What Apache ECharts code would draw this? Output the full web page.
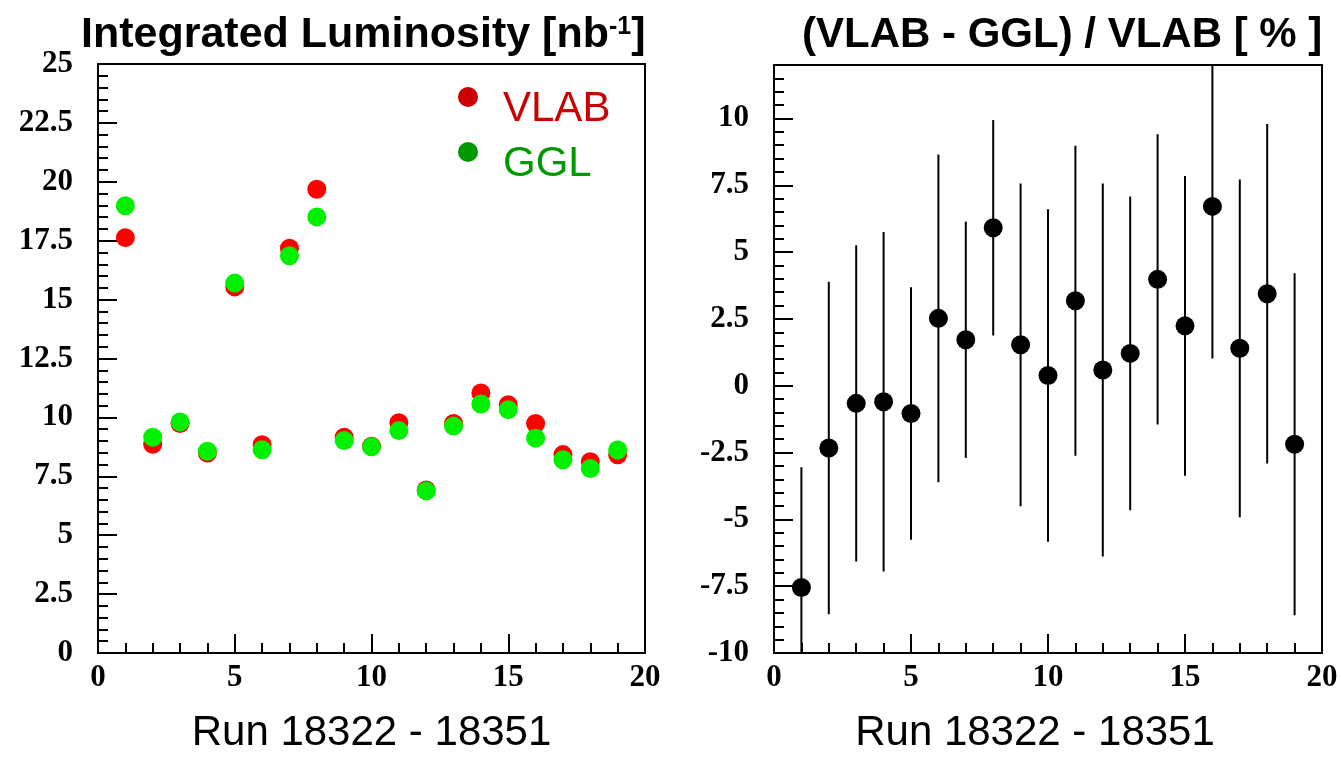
<!DOCTYPE html>
<html>
<head>
<meta charset="utf-8">
<title>Integrated Luminosity — VLAB vs GGL</title>
<script src="https://cdn.jsdelivr.net/npm/echarts@6/dist/echarts.min.js"></script>
<style>
  html, body { margin: 0; padding: 0; background: #fff; }
  #chart { width: 1341px; height: 759px; }
</style>
</head>
<body>
<div id="chart"></div>
<script>
// Run index within the range 18322 - 18351
const runs = [1, 2, 3, 4, 5, 6, 7, 8, 9, 10, 11, 12, 13, 14, 15, 16, 17, 18, 19];

// Integrated luminosity per run [nb^-1]
const vlab = [17.63, 8.86, 9.74, 8.49, 15.54, 8.84, 17.18, 19.68, 9.16, 8.78,
              9.77, 6.92, 9.74, 11.04, 10.54, 9.74, 8.42, 8.12, 8.41];
const ggl  = [18.98, 9.16, 9.81, 8.56, 15.70, 8.63, 16.86, 18.51, 9.02, 8.75,
              9.44, 6.88, 9.63, 10.57, 10.33, 9.12, 8.20, 7.83, 8.62];

// Relative difference (VLAB - GGL) / VLAB [%] and its uncertainty
const relDiff = [-7.55, -2.33, -0.66, -0.60, -1.04, 2.52, 1.72, 5.91, 1.53, 0.38,
                 3.18, 0.59, 1.21, 3.98, 2.24, 6.71, 1.40, 3.44, -2.19];
const relErr  = [4.50, 6.22, 5.92, 6.35, 4.72, 6.13, 4.42, 4.03, 6.04, 6.22,
                 5.80, 6.98, 5.87, 5.43, 5.61, 5.69, 6.32, 6.35, 6.40];

// Legend entries
const legendNames = ['VLAB', 'GGL'];
const legendColors = ['#cc0000', '#009900'];

// Axis ranges
const xRange = [0, 20];
const lumiRange = [0, 25];
const diffRange = [-10, 12];

const chart = echarts.init(document.getElementById('chart'), null, { renderer: 'canvas' });

const tickFont = { fontFamily: 'Liberation Serif', fontWeight: 'bold', fontSize: 31, color: '#000' };
const axisLineStyle = { lineStyle: { color: '#000', width: 2 } };

function xAxisFor(gridIndex, namePadding) {
  return {
    type: 'value', gridIndex, min: xRange[0], max: xRange[1], interval: 5,
    name: 'Run 18322 - 18351', nameLocation: 'middle', nameGap: 59,
    nameTextStyle: { fontFamily: 'Liberation Sans', fontSize: 42, color: '#000', padding: namePadding },
    axisLine: { show: true, onZero: false, ...axisLineStyle },
    axisTick: { show: true, inside: true, length: 19, lineStyle: { color: '#000', width: 2 } },
    minorTick: { show: true, splitNumber: 5, length: 10, lineStyle: { color: '#000', width: 2 } },
    axisLabel: { ...tickFont, margin: 9 },
    splitLine: { show: false }, minorSplitLine: { show: false }
  };
}

function yMajor(gridIndex, range, hideMax) {
  return {
    type: 'value', gridIndex, position: 'left', min: range[0], max: range[1], interval: 2.5,
    axisLine: { show: true, onZero: false, ...axisLineStyle },
    axisTick: { show: true, inside: true, length: 19, lineStyle: { color: '#000', width: 2 } },
    axisLabel: {
      ...tickFont, margin: 25,
      formatter: v => (hideMax && v === range[1]) ? '' : String(v)
    },
    splitLine: { show: false }
  };
}

function yMinor(gridIndex, range) {
  return {
    type: 'value', gridIndex, position: 'left', offset: 0, min: range[0], max: range[1], interval: 0.5,
    axisLine: { show: false },
    axisTick: { show: true, inside: true, length: 10, lineStyle: { color: '#000', width: 2 } },
    axisLabel: { show: false },
    splitLine: { show: false }
  };
}

// Legend drawn as marker + label pairs in the upper right of the left panel
const legendGraphics = [];
legendNames.forEach((name, i) => {
  const cy = 97 + i * 55;
  legendGraphics.push({
    type: 'circle', shape: { cx: 468, cy, r: 10 },
    style: { fill: legendColors[i] }, z: 10
  });
  legendGraphics.push({
    type: 'text', x: 503, y: cy + 12,
    style: {
      text: name, fill: legendColors[i],
      font: '42px "Liberation Sans"', verticalAlign: 'middle', align: 'left'
    }, z: 10
  });
});

const option = {
  backgroundColor: '#fff',
  animation: false,
  title: [
    {
      text: '{a|Integrated Luminosity [nb}{s|-1}{a|]}',
      left: 76, top: 6,
      textStyle: {
        rich: {
          a: { fontFamily: 'Liberation Sans', fontWeight: 'bold', fontSize: 43, color: '#000', lineHeight: 48 },
          s: { fontFamily: 'Liberation Sans', fontWeight: 'bold', fontSize: 25, color: '#000', lineHeight: 48, verticalAlign: 'top', padding: [4, 0, 0, 0] }
        }
      }
    },
    {
      text: '(VLAB - GGL) / VLAB [ % ]',
      left: 797, top: 6,
      textStyle: { fontFamily: 'Liberation Sans', fontWeight: 'bold', fontSize: 42, color: '#000', lineHeight: 48 }
    }
  ],
  graphic: legendGraphics,
  grid: [
    { left: 98, top: 64, width: 547, height: 597, show: true, borderColor: '#000', borderWidth: 2, backgroundColor: '#fff' },
    { left: 774, top: 65, width: 548, height: 596, show: true, borderColor: '#000', borderWidth: 2, backgroundColor: '#fff' }
  ],
  xAxis: [xAxisFor(0, [0, 0, 0, 0]), xAxisFor(1, [0, 26, 0, 0])],
  yAxis: [
    yMajor(0, lumiRange, false),
    yMinor(0, lumiRange),
    yMajor(1, diffRange, true),
    yMinor(1, diffRange)
  ],
  series: [
    {
      name: 'VLAB', type: 'scatter', xAxisIndex: 0, yAxisIndex: 0,
      symbol: 'circle', symbolSize: 19, itemStyle: { color: '#ff0000', opacity: 1 },
      data: runs.map((r, i) => [r, vlab[i]]), z: 3
    },
    {
      name: 'GGL', type: 'scatter', xAxisIndex: 0, yAxisIndex: 0,
      symbol: 'circle', symbolSize: 19, itemStyle: { color: '#00f000', opacity: 1 },
      data: runs.map((r, i) => [r, ggl[i]]), z: 4
    },
    {
      name: 'uncertainty', type: 'custom', xAxisIndex: 1, yAxisIndex: 2,
      data: runs.map((r, i) => [r, relDiff[i], relErr[i]]),
      encode: { x: 0, y: 1 },
      clip: true, z: 2,
      renderItem: (params, api) => {
        const x = api.value(0), v = api.value(1), e = api.value(2);
        const lo = Math.max(v - e, diffRange[0]);
        const hi = Math.min(v + e, diffRange[1]);
        const p1 = api.coord([x, lo]);
        const p2 = api.coord([x, hi]);
        return {
          type: 'line',
          shape: { x1: p1[0], y1: p1[1], x2: p2[0], y2: p2[1] },
          style: { stroke: '#000', lineWidth: 2 }
        };
      }
    },
    {
      name: 'relative difference', type: 'scatter', xAxisIndex: 1, yAxisIndex: 2,
      symbol: 'circle', symbolSize: 19, itemStyle: { color: '#000', opacity: 1 },
      data: runs.map((r, i) => [r, relDiff[i]]), z: 5
    }
  ]
};

chart.setOption(option);
</script>
</body>
</html>
